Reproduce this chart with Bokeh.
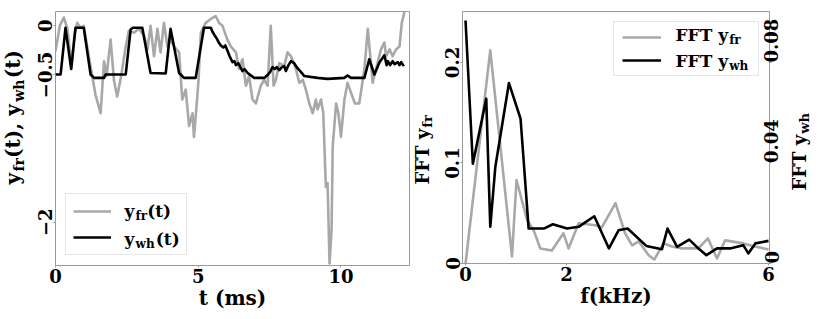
import math
from bokeh.plotting import figure
from bokeh.models import Range1d, LinearAxis, FixedTicker, Legend, LegendItem, Label
from bokeh.layouts import row
from bokeh.embed import file_html
from bokeh.resources import INLINE

# ---------------- data ----------------
t_fr = [0.0, 0.15, 0.29, 0.41, 0.50, 0.58, 0.66, 0.76, 0.88, 0.99, 1.17, 1.40, 1.58, 1.70, 1.79,
        1.93, 2.05, 2.16, 2.30, 2.46, 2.57, 2.75, 2.92, 3.10, 3.22, 3.33, 3.45, 3.57, 3.68, 3.80,
        3.92, 4.04, 4.15, 4.33, 4.44, 4.56, 4.68, 4.80, 4.85, 4.94, 5.01, 5.09, 5.26, 5.44, 5.61,
        5.73, 5.85, 6.02, 6.14, 6.32, 6.43, 6.55, 6.67, 6.78, 6.90, 7.02, 7.19, 7.31, 7.43, 7.54,
        7.64, 7.72, 7.84, 8.01, 8.13, 8.25, 8.42, 8.54, 8.66, 8.77, 8.89, 9.01, 9.12, 9.18, 9.30,
        9.38, 9.47, 9.53, 9.60, 9.67, 9.71, 9.83, 9.91, 10.0, 10.12, 10.23, 10.35, 10.49, 10.64,
        10.82, 10.94, 11.11, 11.23, 11.40, 11.52, 11.58, 11.70, 11.81, 11.93, 12.05, 12.13, 12.22]
y_fr = [-0.26, 0.0, 0.085, -0.02, -0.24, -0.36, -0.10, 0.03, -0.02, 0.0, -0.32, -0.70, -0.89, -0.36, -0.51,
        -0.14, -0.56, -0.72, -0.51, -0.21, -0.05, -0.07, -0.03, -0.10, -0.24, 0.0, -0.31, -0.03, -0.27, 0.03,
        -0.21, -0.14, -0.21, -0.27, -0.75, -0.65, -1.02, -0.89, -1.13, -0.82, -0.55, -0.07, 0.03, 0.07, 0.10,
        0.03, 0.0, -0.14, -0.21, -0.27, -0.44, -0.34, -0.61, -0.51, -0.75, -0.79, -0.61, -0.55, -0.61, 0.0,
        -0.61, -0.55, -0.38, -0.41, -0.27, -0.31, -0.44, -0.58, -0.55, -0.65, -0.79, -0.89, -0.75, -0.85, -0.75,
        -0.89, -1.64, -1.60, -2.42, -2.08, -1.23, -0.79, -0.89, -1.13, -0.75, -0.58, -0.68, -0.79, -0.79,
        -0.44, -0.03, -0.58, -0.44, -0.24, -0.17, -0.31, -0.24, -0.31, -0.24, -0.21, 0.03, 0.14]

t_wh = [0.0, 0.18, 0.35, 0.55, 0.70, 0.99, 1.23, 1.35, 1.70, 1.75, 2.46, 2.63, 2.70, 3.04, 3.33,
        3.86, 4.03, 4.33, 4.50, 4.91, 5.20, 5.44, 5.50, 5.56, 5.65, 5.72, 5.79, 5.88, 5.95, 6.02,
        6.10, 6.20, 6.27, 6.32, 6.40, 6.55, 6.62, 6.73, 6.96, 7.31, 7.43, 7.52, 7.60, 7.68, 7.75,
        7.84, 7.93, 8.01, 8.07, 8.16, 8.25, 8.36, 8.45, 8.54, 8.71, 9.18, 9.53, 10.12, 10.23, 10.35,
        10.82, 10.99, 11.17, 11.35, 11.45, 11.52, 11.60, 11.64, 11.72, 11.81, 11.88, 11.99, 12.05, 12.11, 12.20]
y_wh = [-0.495, -0.495, -0.02, -0.44, -0.02, -0.02, -0.495, -0.53, -0.53, -0.495, -0.495, -0.04, -0.02, -0.02, -0.48,
        -0.485, -0.03, -0.48, -0.53, -0.53, -0.02, -0.02, -0.06, -0.09, -0.13, -0.17, -0.20, -0.22, -0.20, -0.25,
        -0.31, -0.37, -0.36, -0.40, -0.38, -0.46, -0.44, -0.48, -0.53, -0.53, -0.50, -0.47, -0.42, -0.44, -0.42,
        -0.45, -0.42, -0.41, -0.46, -0.40, -0.36, -0.38, -0.42, -0.45, -0.51, -0.53, -0.54, -0.53, -0.505, -0.53,
        -0.53, -0.34, -0.495, -0.37, -0.33, -0.30, -0.40, -0.36, -0.40, -0.36, -0.39, -0.37, -0.40, -0.37, -0.41]

f_fr = [0.0, 0.49, 0.92, 1.01, 1.22, 1.35, 1.48, 1.71, 1.94, 2.04, 2.24, 2.57, 2.70, 2.97, 3.16,
        3.30, 3.43, 3.63, 3.74, 3.92, 4.09, 4.28, 4.61, 4.80, 4.98, 5.14, 5.50, 5.73, 6.0]
a_fr = [0.0, 0.212, 0.007, 0.083, 0.043, 0.033, 0.015, 0.013, 0.030, 0.015, 0.040, 0.038, 0.036, 0.060, 0.030,
        0.018, 0.022, 0.008, 0.004, 0.020, 0.017, 0.015, 0.015, 0.025, 0.005, 0.023, 0.020, 0.017, 0.014]

f_wh = [0.0, 0.145, 0.41, 0.49, 0.59, 0.86, 1.09, 1.25, 1.55, 1.73, 2.01, 2.24, 2.55, 2.84, 3.03,
        3.21, 3.58, 3.89, 4.0, 4.19, 4.43, 4.58, 4.77, 4.98, 5.24, 5.5, 5.6, 5.74, 6.0]
a_wh = [0.0967, 0.0397, 0.0656, 0.0146, 0.0384, 0.0718, 0.0576, 0.0139, 0.0139, 0.0156, 0.0139, 0.0146, 0.0188, 0.006, 0.0132,
        0.0139, 0.007, 0.0057, 0.0139, 0.0066, 0.0095, 0.0066, 0.0033, 0.006, 0.006, 0.0073, 0.004, 0.008, 0.009]

t_ticks = [0, 5, 10]
t_tick_labels = ["0", "5", "10"]
yt_ticks = [-2, -0.5, 0]
yt_tick_labels = ["-2", "-0.5", "0"]
f_ticks = [0, 2, 6]
f_tick_labels = ["0", "2", "6"]
afr_ticks = [0, 0.1, 0.2]
afr_tick_labels = ["0", "0.1", "0.2"]
awh_ticks = [0, 0.04, 0.08]
awh_tick_labels = ["0", "0.04", "0.08"]

# ---------------- style ----------------
FONT = "DejaVu Serif"
GRAY = "#a8a8a8"
BLACK = "#000000"
FRAME = "#9a9a9a"
LW = 2.6
MID = 0.345   # observed distance (in em) between the label anchor and the glyph baseline

CW = {' ': 0.348, '(': 0.473, ')': 0.473, ',': 0.380, 't': 0.478, 'y': 0.651, 'f': 0.435,
      'r': 0.535, 'w': 0.924, 'h': 0.760, 'F': 0.720, 'T': 0.720}


def text_w(s, size):
    return sum(CW.get(c, 0.6) for c in s) * size


def rich(p, x, y, xo, yo, pieces, vertical=False):
    """(xo, yo): pixel offset of the BASELINE start from the data point (x, y)."""
    pos = 0.0
    for txt, size, shift in pieces:
        if vertical:
            lab = Label(x=x, y=y, x_offset=xo + shift - MID * size, y_offset=yo + pos, text=txt,
                        angle=math.pi / 2, text_align="left", text_baseline="alphabetic")
        else:
            lab = Label(x=x, y=y, x_offset=xo + pos, y_offset=yo - shift + MID * size, text=txt,
                        text_align="left", text_baseline="alphabetic")
        lab.text_font = FONT
        lab.text_font_style = "bold"
        lab.text_font_size = f"{size}px"
        lab.text_color = BLACK
        p.add_layout(lab)
        pos += text_w(txt, size)


def overrides(ticks, labels):
    return {str(v): lab for v, lab in zip(ticks, labels)}


def style_axis(ax, ticks, labels, orient=None):
    ax.ticker = FixedTicker(ticks=ticks)
    ax.major_label_overrides = overrides(ticks, labels)
    ax.axis_line_color = None
    ax.major_tick_line_color = FRAME
    ax.major_tick_out = 2
    ax.major_tick_in = 0
    ax.minor_tick_line_color = None
    ax.major_label_text_font = FONT
    ax.major_label_text_font_style = "bold"
    ax.major_label_text_font_size = "18px"
    ax.major_label_text_color = BLACK
    ax.major_label_standoff = 1
    ax.axis_label_text_font = FONT
    ax.axis_label_text_font_style = "bold"
    ax.axis_label_text_font_size = "20px"
    ax.axis_label_text_color = BLACK
    ax.axis_label_standoff = 0
    if orient is not None:
        ax.major_label_orientation = orient


def label_fig(width):
    # a narrow text-only panel holding a vertical axis title (pixel data units)
    f = figure(frame_width=width, frame_height=263, x_range=Range1d(0, width), y_range=Range1d(0, 263),
               x_axis_location=None, y_axis_location=None, output_backend="svg", toolbar_location=None,
               min_border_left=0, min_border_right=0, min_border_top=0, min_border_bottom=50)
    f.grid.visible = False
    f.outline_line_color = None
    f.background_fill_color = "white"
    f.border_fill_color = "white"
    return f


# ---------------- left panel ----------------
X1 = (0.0, 12.40)
Y1 = (-2.44, 0.146)
p1 = figure(frame_width=354, frame_height=254, output_backend="svg", toolbar_location=None,
            x_range=Range1d(*X1), y_range=Range1d(*Y1),
            min_border_left=27, min_border_right=2, min_border_top=9, min_border_bottom=50)
p1.grid.visible = False
p1.outline_line_color = FRAME
p1.outline_line_width = 1
p1.background_fill_color = "white"
p1.border_fill_color = "white"

r1 = p1.line(t_fr, y_fr, line_color=GRAY, line_width=LW, line_join="round")
r2 = p1.line(t_wh, y_wh, line_color=BLACK, line_width=LW, line_join="round")

style_axis(p1.xaxis[0], t_ticks, t_tick_labels)
p1.xaxis[0].axis_label = "t (ms)"
style_axis(p1.yaxis[0], yt_ticks, yt_tick_labels, orient="vertical")

leg1 = Legend(items=[LegendItem(label=" ", renderers=[r1]), LegendItem(label="  ", renderers=[r2])],
              location="bottom_left", margin=10, padding=7, spacing=6,
              glyph_width=38, glyph_height=20, label_height=20, label_width=54,
              label_standoff=14, label_text_font_size="10px",
              border_line_color="#d0d0d0", border_line_width=1,
              background_fill_alpha=0.0)
p1.add_layout(leg1)

# legend texts (with subscripts)
rich(p1, X1[0], Y1[0], 69, 49, [("y", 17, 0), ("fr", 12, 4), ("(t)", 17, 0)])
rich(p1, X1[0], Y1[0], 69, 21, [("y", 17, 0), ("wh", 12, 4), ("(t)", 17, 0)])

# y axis title of the left panel
L1 = label_fig(28)
rich(L1, 19.5, 90, 0, 0,
     [("y", 20, 0), ("fr", 14, 4), ("(t), y", 20, 0), ("wh", 14, 4), ("(t)", 20, 0)], vertical=True)

# ---------------- right panel ----------------
X2 = (-0.06, 6.02)
Y2 = (0.0, 0.2507)
Y2R = (0.0, 0.10028)
p2 = figure(frame_width=307, frame_height=252, output_backend="svg", toolbar_location=None,
            x_range=Range1d(*X2), y_range=Range1d(*Y2),
            min_border_left=27, min_border_right=0, min_border_top=11, min_border_bottom=50)
p2.grid.visible = False
p2.outline_line_color = FRAME
p2.outline_line_width = 1
p2.background_fill_color = "white"
p2.border_fill_color = "white"
p2.extra_y_ranges = {"wh": Range1d(*Y2R)}

r3 = p2.line(f_fr, a_fr, line_color=GRAY, line_width=LW, line_join="round")
r4 = p2.line(f_wh, a_wh, line_color=BLACK, line_width=LW, line_join="round", y_range_name="wh")

style_axis(p2.xaxis[0], f_ticks, f_tick_labels)
p2.xaxis[0].axis_label = "f(kHz)"
style_axis(p2.yaxis[0], afr_ticks, afr_tick_labels, orient="vertical")
ax_r = LinearAxis(y_range_name="wh")
style_axis(ax_r, awh_ticks, awh_tick_labels, orient=math.pi / 2)
ax_r.major_label_standoff = 0
p2.add_layout(ax_r, "right")

leg2 = Legend(items=[LegendItem(label=" ", renderers=[r3]), LegendItem(label="  ", renderers=[r4])],
              location="top_right", margin=10, padding=8, spacing=9,
              glyph_width=39, glyph_height=14, label_height=14, label_width=76,
              label_standoff=13, label_text_font_size="10px",
              border_line_color="#d0d0d0", border_line_width=1,
              background_fill_alpha=0.0)
p2.add_layout(leg2)

rich(p2, X2[1], Y2[1], -94, -29, [("FFT y", 17, 0), ("fr", 12, 4)])
rich(p2, X2[1], Y2[1], -94, -55, [("FFT y", 17, 0), ("wh", 12, 4)])

# axis titles of the right panel
L2 = label_fig(24)
rich(L2, 17.2, 90, 0, 0, [("FFT y", 18, 0), ("fr", 13, 3)], vertical=True)
L3 = label_fig(25)
rich(L3, 17.5, 84, 0, 0, [("FFT y", 18, 0), ("wh", 13, 3)], vertical=True)

layout = row(L1, p1, L2, p2, L3)
open("out.html", "w").write(file_html(layout, INLINE))
